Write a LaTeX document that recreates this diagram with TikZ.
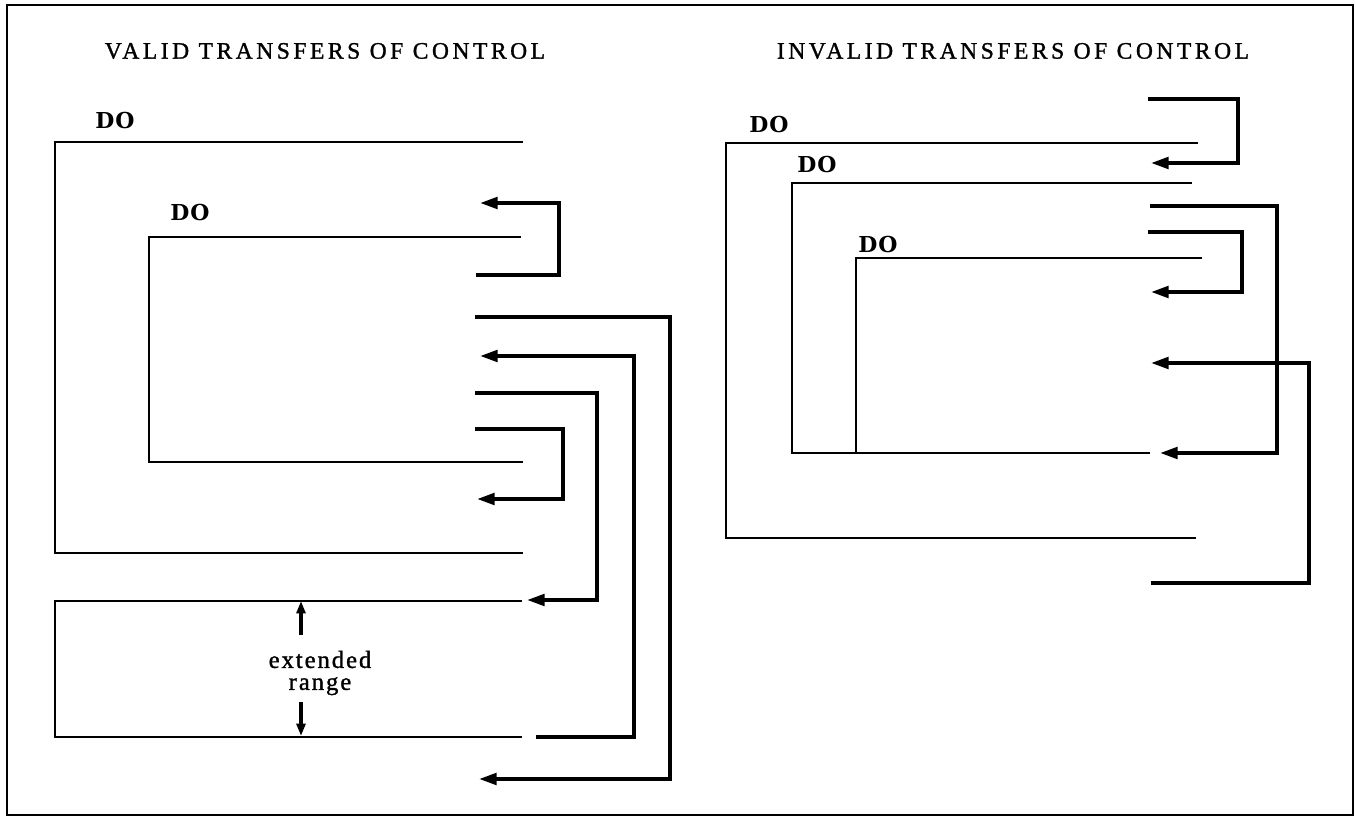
\documentclass[tikz,border=0pt]{standalone}
\usepackage{fontspec}
\setmainfont{Liberation Serif}
\newfontfamily\headfont[LetterSpace=15,FakeBold=1.2]{Liberation Serif}
\newfontfamily\dofont[LetterSpace=4]{DejaVu Serif}
\newfontfamily\rangefont[LetterSpace=8,FakeBold=1.2]{Liberation Serif}
\usepackage{tikz}
\usetikzlibrary{arrows.meta}

\begin{document}
\begin{tikzpicture}[x=0.02cm, y=-0.02cm,
    loopline/.style={line width=1.5pt},
    jumpline/.style={line width=2.1pt, -{Triangle[length=10pt,width=6.5pt]}},
    rangearrow/.style={line width=1.8pt, -{Triangle[length=7pt,width=5pt]}},
    heading/.style={font=\headfont\fontsize{13.4}{14}\selectfont},
    dolabel/.style={font=\dofont\bfseries\fontsize{12.5}{13}\selectfont}]
  \useasboundingbox (0,0) rectangle (1356,818);
  % frame
  \draw[line width=0.9pt] (7,5) rectangle (1353,815);
  \node[heading] (validhead) at (325,51) {VALID TRANSFERS OF CONTROL};
  \node[heading] (invalidhead) at (1013,51) {INVALID TRANSFERS OF CONTROL};

  % valid: outer and inner loops
  \draw[loopline] (523,142) -- (55,142) -- (55,553) -- (523,553);
  \draw[loopline] (521,237) -- (149,237) -- (149,462) -- (523,462);
  \node[dolabel] (vdoa) at (115,121) {DO};
  \node[dolabel] (vdob) at (190,213) {DO};
  % extended range
  \draw[loopline] (522,601) -- (55,601) -- (55,737) -- (522,737);
  \node[font=\rangefont\fontsize{14}{12.5}\selectfont, align=center] (ext) at (320,673)
    {extended\\range};
  \coordinate (exttop) at (301,601);
  \coordinate (extbot) at (301,736);
  \draw[rangearrow] (301,635) -- (exttop);
  \draw[rangearrow] (301,702) -- (extbot);
  % valid jumps
  \draw[jumpline] (476,275) -- (559,275) -- (559,203) -- (480,203);
  \draw[jumpline] (475,317) -- (670,317) -- (670,779) -- (479,779);
  \draw[jumpline] (536,737) -- (634,737) -- (634,356) -- (480,356);
  \draw[jumpline] (475,393) -- (597,393) -- (597,600) -- (527,600);
  \draw[jumpline] (475,429) -- (563,429) -- (563,499) -- (477,499);

  % invalid: three nested loops
  \draw[loopline] (1198,143) -- (726,143) -- (726,538) -- (1196,538);
  \draw[loopline] (1192,183) -- (792,183) -- (792,453) -- (1150,453);
  \draw[loopline] (1202,258) -- (856,258) -- (856,453);
  \node[dolabel] (ido1) at (769,125) {DO};
  \node[dolabel] (ido2) at (817,165) {DO};
  \node[dolabel] (ido3) at (878,245) {DO};
  % invalid jumps
  \draw[jumpline] (1148,99) -- (1238,99) -- (1238,163) -- (1151,163);
  \draw[jumpline] (1150,206) -- (1277,206) -- (1277,453) -- (1160,453);
  \draw[jumpline] (1148,232) -- (1242,232) -- (1242,292) -- (1151,292);
  \draw[jumpline] (1151,583) -- (1309,583) -- (1309,363) -- (1151,363);
\end{tikzpicture}
\end{document}
